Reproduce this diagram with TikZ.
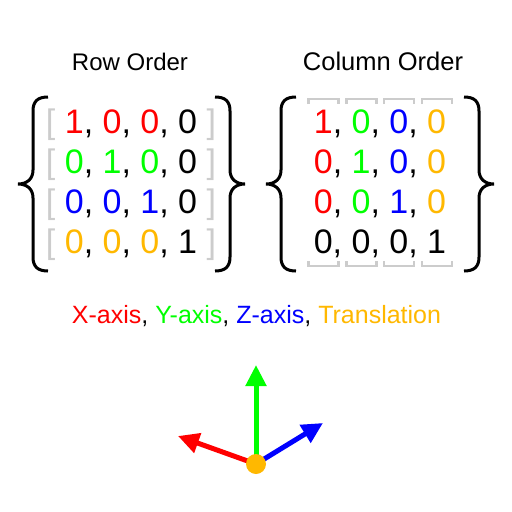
\documentclass[tikz,border=0pt]{standalone}
\usepackage{fontspec}
\setmainfont{Liberation Sans}
\usepackage{xcolor}
\usetikzlibrary{arrows.meta}
\definecolor{rojo}{HTML}{FF0000}
\definecolor{verde}{HTML}{00FF00}
\definecolor{azul}{HTML}{0000FF}
\definecolor{naranja}{HTML}{FFB800}
\definecolor{gris}{HTML}{CCCCCC}
\tikzset{
  titulo/.style={anchor=base,inner sep=0pt,font=\fontsize{24}{28}\selectfont},
  fila/.style={anchor=base,inner sep=0pt,font=\fontsize{34}{40}\selectfont},
  corchete/.style={draw=gris,line width=2.5pt},
  eje/.style={line width=5pt,-{Triangle[length=21pt,width=20pt]}},
  llave/.pic={
    \draw[line width=3pt] (30,-87) .. controls (20,-87) and (15,-83) .. (15,-73) -- (15,-14)
      .. controls (15,-5) and (9,0) .. (0,0) .. controls (9,0) and (15,5) .. (15,14)
      -- (15,73) .. controls (15,83) and (20,87) .. (30,87);
  }
}
\newcommand{\rj}[1]{\textcolor{rojo}{#1}}
\newcommand{\vd}[1]{\textcolor{verde}{#1}}
\newcommand{\az}[1]{\textcolor{azul}{#1}}
\newcommand{\nj}[1]{\textcolor{naranja}{#1}}
\newcommand{\gr}[1]{\textcolor{gris}{#1}}
\begin{document}
\begin{tikzpicture}[x=1pt,y=-1pt]
\path[fill=white] (0,0) rectangle (512,512);
% Row order
\node[titulo] (trow) at (130,70) {Row Order};
\node[fila] (r1) at (131,133) {\gr{[} \rj{1}, \rj{0}, \rj{0}, 0 \gr{]}};
\node[fila] (r2) at (131,173) {\gr{[} \vd{0}, \vd{1}, \vd{0}, 0 \gr{]}};
\node[fila] (r3) at (131,213) {\gr{[} \az{0}, \az{0}, \az{1}, 0 \gr{]}};
\node[fila] (r4) at (131,253) {\gr{[} \nj{0}, \nj{0}, \nj{0}, 1 \gr{]}};
\pic at (18,184) {llave};
\pic[xscale=-1] at (245,184) {llave};
% Column order
\node[titulo,font=\fontsize{25.5}{30}\selectfont] (tcol) at (383,70) {Column Order};
\node[fila] (c1) at (380,133) {\rj{1}, \vd{0}, \az{0}, \nj{0}};
\node[fila] (c2) at (380,173) {\rj{0}, \vd{1}, \az{0}, \nj{0}};
\node[fila] (c3) at (380,213) {\rj{0}, \vd{0}, \az{1}, \nj{0}};
\node[fila] (c4) at (380,253) {0, 0, 0, 1};
\foreach \i in {0,1,2,3}{
  \pgfmathsetmacro{\cx}{323.5+37.8*\i}
  \draw[corchete] (\cx-15,104) -- (\cx-15,99) -- (\cx+15,99) -- (\cx+15,104);
  \draw[corchete] (\cx-15,261) -- (\cx-15,266) -- (\cx+15,266) -- (\cx+15,261);
}
\pic at (266,184) {llave};
\pic[xscale=-1] at (494,184) {llave};
% legend
\node[titulo,font=\fontsize{25}{30}\selectfont] (ley) at (256.5,323) {\rj{X-axis}, \vd{Y-axis}, \az{Z-axis}, \nj{Translation}};
% axes
\coordinate (o) at (256,464);
\coordinate (xt) at (178,436);
\coordinate (yt) at (256,365);
\coordinate (zt) at (323,423);
\draw[eje,rojo] (o) -- (xt);
\draw[eje,verde] (o) -- (yt);
\draw[eje,azul] (o) -- (zt);
\node[circle,fill=naranja,inner sep=0pt,minimum size=20pt] (orig) at (o) {};
\end{tikzpicture}
\end{document}
